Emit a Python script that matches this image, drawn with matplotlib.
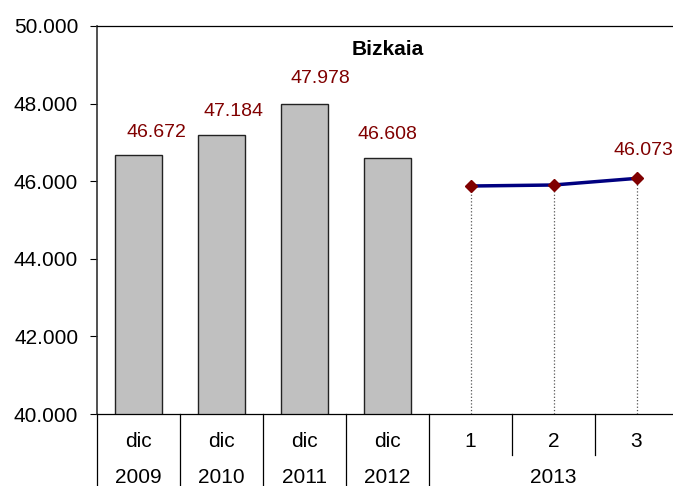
import matplotlib.pyplot as plt
import matplotlib.transforms as mtransforms
from matplotlib.lines import Line2D

plt.rcParams['font.family'] = ['Liberation Sans', 'DejaVu Sans']

# datos
bar_labels = ['dic', 'dic', 'dic', 'dic']
bar_years = ['2009', '2010', '2011', '2012']
bar_values = [46672, 47184, 47978, 46608]

month_labels = ['1', '2', '3']
month_year = '2013'
month_values = [45876, 45902, 46073]

title = 'Bizkaia'
y_ticks = [40000, 42000, 44000, 46000, 48000, 50000]

# posiciones de las etiquetas de datos (ajuste fino en píxeles)
label_dx = [18, 12, 16, 0]
label_dy = [23, 24, 26, 23]
last_dx, last_dy = 7, 28


def fmt(v):
    return f'{v:,.0f}'.replace(',', '.')


W, H = 673, 486
fig = plt.figure(figsize=(W / 100, H / 100), dpi=100)
ax = fig.add_axes([97 / W, 72 / H, 581 / W, 388 / H])

n = len(bar_values) + len(month_values)
xb = list(range(len(bar_values)))
xm = list(range(len(bar_values), n))

ax.bar(xb, bar_values, width=0.57, color='#C0C0C0', edgecolor='#222222',
       linewidth=1.0, zorder=2)

# líneas de caída punteadas
for x, v in zip(xm, month_values):
    ax.plot([x, x], [y_ticks[0], v], color='#555555', linestyle=':',
            linewidth=0.9, zorder=1)

ax.plot(xm, month_values, color='#000080', linewidth=2.5, zorder=3)
ax.plot(xm, month_values, linestyle='none', marker='D', markersize=6.5,
        color='#800000', zorder=4)

for x, v, dx, dy in zip(xb, bar_values, label_dx, label_dy):
    ax.annotate(fmt(v), (x, v), xytext=(dx * 0.72, dy * 0.72),
                textcoords='offset points', ha='center', va='center',
                color='#800000', fontsize=14)
ax.annotate(fmt(month_values[-1]), (xm[-1], month_values[-1]),
            xytext=(last_dx * 0.72, last_dy * 0.72), textcoords='offset points',
            ha='center', va='center', color='#800000', fontsize=14)

ax.set_xlim(-0.5, n - 0.5)
ax.set_ylim(y_ticks[0], y_ticks[-1])
ax.set_yticks(y_ticks)
ax.set_yticklabels([fmt(t) for t in y_ticks], fontsize=15)
ax.tick_params(axis='y', direction='out', length=5, width=0.8, pad=8.5)
ax.set_xticks([])

ax.spines['right'].set_visible(False)
for s in ['left', 'top', 'bottom']:
    ax.spines[s].set_linewidth(0.9)
    ax.spines[s].set_color('black')
ax.spines['left'].set_linewidth(1.2)
ax.spines['left'].set_color('#333333')

ax.text(0.5, 0.94, title, transform=ax.transAxes, ha='center', va='center',
        fontsize=15, fontweight='bold')

# eje de categorías en dos niveles
trans = mtransforms.blended_transform_factory(ax.transData, fig.transFigure)
first_labels = bar_labels + month_labels
for x, lab in enumerate(first_labels):
    ax.text(x, 1 - 441 / H, lab, transform=trans, ha='center', va='center',
            fontsize=15)
for x, lab in zip(xb, bar_years):
    ax.text(x, 1 - 477 / H, lab, transform=trans, ha='center', va='center',
            fontsize=15)
ax.text((xm[0] + xm[-1]) / 2, 1 - 477 / H, month_year, transform=trans,
        ha='center', va='center', fontsize=15)

for b in range(len(bar_values) + 1):
    fig.add_artist(Line2D([b - 0.5, b - 0.5], [72 / H, 0], transform=trans,
                          color='black', linewidth=0.9, clip_on=False))
for b in xm[1:]:
    fig.add_artist(Line2D([b - 0.5, b - 0.5], [72 / H, 1 - 455 / H],
                          transform=trans, color='black', linewidth=0.9,
                          clip_on=False))

fig.savefig('out.png', dpi=100)
